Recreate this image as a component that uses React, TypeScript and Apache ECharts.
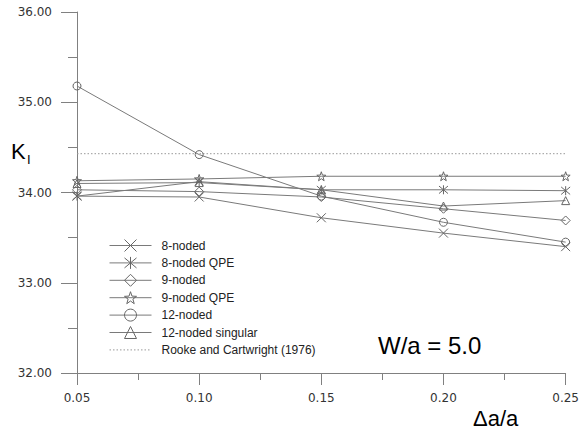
import React, { useEffect, useRef } from 'react';
import * as echarts from 'echarts';

const crackRatio = [0.05, 0.1, 0.15, 0.2, 0.25];
const eightNoded = [33.96, 33.95, 33.72, 33.55, 33.4];
const eightNodedQPE = [33.96, 34.12, 34.03, 34.03, 34.02];
const nineNoded = [34.03, 34.01, 33.95, 33.82, 33.69];
const nineNodedQPE = [34.13, 34.15, 34.18, 34.18, 34.18];
const twelveNoded = [35.18, 34.42, 33.96, 33.67, 33.45];
const twelveNodedSingular = [34.1, 34.11, 34.03, 33.85, 33.91];
const rookeCartwright = [34.43, 34.43, 34.43, 34.43, 34.43];

const seriesNames = [
  '8-noded',
  '8-noded QPE',
  '9-noded',
  '9-noded QPE',
  '12-noded',
  '12-noded singular',
  'Rooke and Cartwright (1976)',
];

const symbolX = 'path://M0,0L10,10M10,0L0,10';
const symbolAsterisk = 'path://M0,0L10,10M10,0L0,10M5,-1L5,11';
const symbolStar =
  'path://M5,0L6.2,3.6L10,3.8L7,6.1L8.1,9.8L5,7.6L1.9,9.8L3,6.1L0,3.8L3.8,3.6Z';

const LINE = '#7a7a7a';
const AXIS = '#808080';

export default function App() {
  const ref = useRef<HTMLDivElement>(null);
  useEffect(() => {
    if (!ref.current) return;
    const chart = echarts.init(ref.current, undefined, { renderer: 'svg' });
    const pairs = (vals: number[]) => crackRatio.map((x, i) => [x, vals[i]]);
    const mk = (name: string, vals: number[], symbol: string, size: number) => ({
      name,
      type: 'line',
      data: pairs(vals),
      symbol,
      symbolSize: size,
      color: LINE,
      lineStyle: { color: LINE, width: 1 },
      itemStyle: { color: 'transparent', borderColor: '#666', borderWidth: 1 },
      emphasis: { disabled: true },
    });
    chart.setOption({
      animation: false,
      backgroundColor: '#ffffff',
      grid: { left: 77, right: 14, top: 12, bottom: 59 },
      legend: {
        orient: 'vertical',
        left: 104,
        top: 234,
        itemWidth: 42,
        itemHeight: 15,
        itemGap: 4.4,
        selectedMode: false,
        data: seriesNames,
        lineStyle: { width: 1 },
        itemStyle: { borderWidth: 1 },
        textStyle: {
          fontFamily: 'Liberation Sans',
          fontSize: 12,
          color: '#222',
          padding: [0, 0, 0, 5],
        },
      },
      xAxis: {
        type: 'value',
        min: 0.05,
        max: 0.25,
        interval: 0.05,
        axisLine: { lineStyle: { color: AXIS, width: 1 } },
        axisTick: { length: 12, lineStyle: { color: AXIS } },
        minorTick: { show: true, splitNumber: 2, length: 7, lineStyle: { color: AXIS } },
        splitLine: { show: false },
        axisLabel: {
          margin: 19,
          fontFamily: 'DejaVu Sans',
          fontSize: 12,
          color: '#333',
          formatter: (v: number) => v.toFixed(2),
        },
      },
      yAxis: {
        type: 'value',
        min: 32,
        max: 36,
        interval: 1,
        axisLine: { show: true, lineStyle: { color: AXIS, width: 1 } },
        axisTick: { show: true, length: 16, lineStyle: { color: AXIS } },
        minorTick: { show: true, splitNumber: 2, length: 9, lineStyle: { color: AXIS } },
        splitLine: { show: false },
        axisLabel: {
          margin: 25,
          fontFamily: 'DejaVu Sans',
          fontSize: 12,
          color: '#333',
          formatter: (v: number) => v.toFixed(2),
        },
      },
      series: [
        mk(seriesNames[0], eightNoded, symbolX, 9),
        mk(seriesNames[1], eightNodedQPE, symbolAsterisk, 9),
        mk(seriesNames[2], nineNoded, 'diamond', 9),
        mk(seriesNames[3], nineNodedQPE, symbolStar, 9),
        mk(seriesNames[4], twelveNoded, 'circle', 8),
        mk(seriesNames[5], twelveNodedSingular, 'triangle', 8),
        {
          name: seriesNames[6],
          type: 'line',
          data: pairs(rookeCartwright),
          symbol: 'none',
          color: '#999',
          lineStyle: { color: '#999', width: 1, type: [1.5, 2] },
          itemStyle: { color: 'transparent', borderColor: 'transparent' },
          emphasis: { disabled: true },
        },
      ],
      graphic: [
        {
          type: 'text',
          x: 11,
          y: 151,
          style: { text: 'K', font: '22px "Liberation Sans"', fill: '#000', verticalAlign: 'middle' },
        },
        {
          type: 'text',
          x: 27,
          y: 159,
          style: { text: 'I', font: '13px "Liberation Sans"', fill: '#000', verticalAlign: 'middle' },
        },
        {
          type: 'text',
          x: 378,
          y: 345,
          style: { text: 'W/a = 5.0', font: '24px "Liberation Sans"', fill: '#000', verticalAlign: 'middle' },
        },
        {
          type: 'text',
          x: 473,
          y: 418,
          style: { text: 'Δa/a', font: '22px "Liberation Sans"', fill: '#000', verticalAlign: 'middle' },
        },
      ],
    });
    return () => chart.dispose();
  }, []);
  return (
    <div
      ref={ref}
      style={{ position: 'fixed', left: 0, top: 0, width: 582, height: 432, background: '#fff' }}
    />
  );
}
